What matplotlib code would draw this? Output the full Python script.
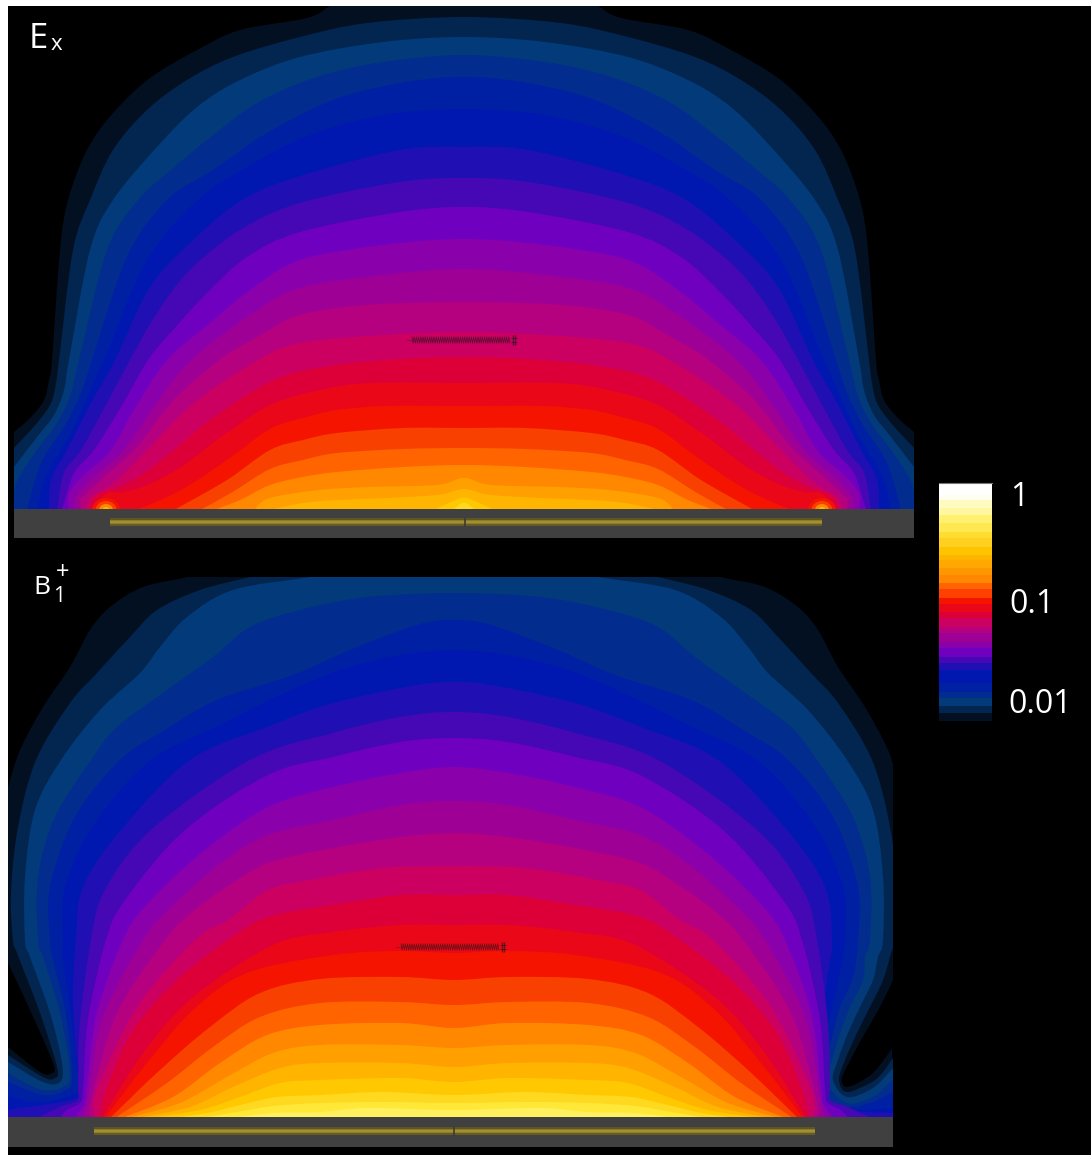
import numpy as np
import matplotlib
matplotlib.use('Agg')
import matplotlib.pyplot as plt
from matplotlib.path import Path
from matplotlib.patches import PathPatch, Rectangle
from matplotlib.transforms import Affine2D

# 颜色带，从外（弱场）到内（强场）
band_colors = ['#021022', '#02264f', '#023a7a', '#022c8e', '#0020a4', '#0018b0', '#2010b4',
               '#4608b4', '#7000c0', '#8a00aa', '#9e0096', '#b50080', '#cc0060', '#dd0038',
               '#ea0818', '#f51400', '#f84000', '#ff6400', '#ff8800', '#ffa000', '#ffb400',
               '#ffc800', '#ffd820', '#ffe838', '#fff060']

# Ex: 左半边等值线，从中线往外读的像素点（右半边镜像）
ex_c00 = [(464, -6), (400, -4), (345, 0), (330, 6), (307, 18), (240, 30), (197, 50), (150, 78), (113, 113), (87, 150), (68, 200), (60, 250), (52, 360), (49, 380), (44, 400), (31, 417), (14, 432)]
ex_c01 = [(464, 17), (367, 23), (300, 37), (233, 57), (187, 80), (147, 110), (113, 150), (90, 200), (73, 250), (59, 360), (56, 383), (51, 403), (37, 423), (14, 448)]
ex_c02 = [(464, 37), (383, 42), (300, 57), (240, 80), (197, 107), (157, 147), (113, 200), (90, 250), (69, 360), (64, 390), (54, 415), (37, 437), (14, 467)]
ex_c03 = [(464, 55), (383, 62), (317, 77), (257, 103), (207, 140), (165, 175), (138, 200), (107, 250), (79, 360), (71, 393), (57, 423), (37, 450), (19, 477), (14, 493)]
ex_c04 = [(464, 77), (400, 83), (333, 100), (267, 133), (213, 170), (167, 200), (127, 257), (92, 360), (81, 393), (64, 427), (41, 463), (27, 510)]
ex_c05 = [(464, 109), (383, 115), (310, 135), (250, 165), (198, 200), (147, 260), (104, 360), (87, 397), (71, 433), (47, 473), (37, 510)]
ex_c06 = [(464, 147), (400, 150), (300, 176), (242, 200), (190, 243), (150, 287), (115, 360), (91, 403), (67, 450), (51, 480), (49, 510)]
ex_c07 = [(464, 178), (400, 182), (300, 203), (240, 230), (190, 270), (157, 313), (130, 360), (107, 403), (81, 450), (64, 473), (57, 510)]
ex_c08 = [(464, 207), (400, 212), (300, 232), (247, 257), (207, 293), (173, 330), (148, 360), (121, 407), (94, 450), (74, 473), (62, 510)]
ex_c09 = [(464, 239), (383, 245), (300, 260), (250, 290), (210, 323), (167, 360), (134, 410), (111, 450), (84, 475), (69, 493), (69, 510)]
ex_c10 = [(464, 269), (383, 275), (300, 288), (253, 313), (191, 360), (154, 407), (124, 450), (94, 477), (76, 497), (76, 510)]
ex_c11 = [(464, 302), (367, 305), (300, 315), (257, 337), (219, 360), (171, 403), (137, 447), (104, 477), (82, 498), (81, 510)]
ex_c12 = [(464, 332), (383, 335), (300, 343), (258, 360), (194, 403), (147, 450), (117, 480), (91, 497), (86, 510)]
ex_c13 = [(464, 357), (400, 359), (330, 366), (274, 380), (214, 417), (174, 450), (144, 473), (117, 488), (97, 495), (89, 510)]
ex_c14 = [(464, 383), (370, 383), (320, 390), (270, 405), (221, 437), (181, 467), (147, 485), (124, 492), (107, 493), (91, 510)]
ex_c15 = [(464, 406), (387, 406), (337, 410), (303, 418), (270, 429), (227, 460), (181, 490), (137, 510)]
ex_c16 = [(464, 428), (403, 428), (337, 433), (303, 440), (270, 450), (227, 480), (174, 510)]
ex_c17 = [(464, 448), (403, 449), (337, 453), (303, 460), (270, 469), (231, 493), (200, 510)]
ex_c18 = [(464, 465), (403, 467), (337, 472), (303, 477), (270, 485), (240, 500), (214, 510)]
ex_c19 = [(464, 478), (437, 485), (370, 487), (320, 490), (270, 498), (254, 510)]
ex_c20 = [(464, 489), (457, 490), (437, 495), (387, 498), (337, 500), (303, 503), (270, 510)]
ex_c21 = [(464, 498), (460, 498), (440, 507), (433, 510)]
ex_c22 = [(464, 503), (460, 504), (453, 510)]
ex_contours = [ex_c00, ex_c01, ex_c02, ex_c03, ex_c04, ex_c05, ex_c06, ex_c07, ex_c08, ex_c09, ex_c10, ex_c11,
               ex_c12, ex_c13, ex_c14, ex_c15, ex_c16, ex_c17, ex_c18, ex_c19, ex_c20, ex_c21, ex_c22]
ex_bands = list(range(23))
ex_blob_radius = [12, 9, 6, 3]
ex_blob_bands = [15, 16, 18, 20]

# B1+
b1_c00 = [(454, 560), (250, 560), (187, 577), (143, 587), (110, 607), (90, 630), (70, 667), (43, 707), (20, 750), (8, 787)]
b1_c00_hole = [(8, 963), (30, 1010), (53, 1063), (52, 1073), (40, 1072), (8, 1047)]
b1_c00_hole_r = [(893, 980), (880, 1007), (865, 1033), (852, 1057), (842, 1078), (847, 1087), (868, 1077), (880, 1065), (892, 1048)]
b1_c01 = [(454, 560), (300, 565), (250, 577), (200, 590), (157, 610), (130, 637), (97, 673), (70, 703), (36, 760), (18, 827), (11, 893), (13, 940), (17, 953), (40, 1013), (57, 1067), (55, 1078), (43, 1077), (8, 1055)]
b1_c02 = [(454, 565), (360, 568), (310, 577), (233, 590), (187, 617), (160, 647), (140, 673), (100, 710), (61, 760), (35, 810), (25, 877), (25, 940), (30, 957), (50, 1013), (62, 1063), (60, 1082), (43, 1082), (8, 1062)]
b1_c03 = [(454, 593), (367, 597), (300, 610), (250, 627), (213, 657), (167, 690), (117, 727), (91, 760), (55, 817), (38, 877), (38, 940), (43, 957), (60, 1013), (70, 1073), (63, 1087), (43, 1090), (20, 1080), (8, 1073)]
b1_c04 = [(454, 620), (417, 625), (350, 650), (293, 675), (217, 700), (165, 730), (120, 760), (75, 817), (50, 887), (50, 940), (53, 960), (65, 1010), (72, 1075), (66, 1090), (43, 1095), (8, 1082)]
b1_c05 = [(454, 650), (400, 655), (340, 670), (280, 695), (220, 725), (151, 760), (95, 823), (65, 887), (63, 940), (63, 960), (70, 1010), (78, 1080), (72, 1095), (37, 1102), (8, 1096)]
b1_c06 = [(454, 682), (417, 685), (333, 703), (267, 727), (190, 760), (121, 830), (83, 887), (76, 940), (73, 990), (75, 1040), (80, 1085), (76, 1098), (50, 1104), (20, 1108), (8, 1110)]
b1_c07 = [(454, 712), (400, 717), (333, 733), (250, 760), (151, 830), (105, 890), (91, 940), (80, 1023), (78, 1087), (78, 1100), (60, 1107), (37, 1118)]
b1_c08 = [(454, 738), (400, 742), (333, 757), (268, 775), (185, 830), (125, 900), (106, 940), (88, 1020), (83, 1090), (80, 1103), (67, 1110), (60, 1118)]
b1_c09 = [(454, 767), (400, 773), (333, 787), (268, 807), (205, 850), (148, 903), (123, 940), (97, 1013), (87, 1087), (85, 1103), (75, 1118)]
b1_c10 = [(454, 801), (400, 805), (333, 820), (268, 835), (221, 863), (171, 907), (143, 940), (103, 1017), (88, 1097), (83, 1118)]
b1_c11 = [(454, 833), (400, 837), (333, 848), (268, 863), (225, 888), (191, 913), (165, 940), (117, 1013), (92, 1097), (90, 1118)]
b1_c12 = [(454, 866), (383, 868), (310, 880), (268, 890), (228, 920), (195, 940), (137, 1007), (97, 1090), (95, 1118)]
b1_c13 = [(454, 895), (400, 895), (333, 905), (268, 917), (228, 940), (177, 980), (133, 1030), (107, 1087), (99, 1118)]
b1_c14 = [(454, 925), (400, 925), (333, 932), (273, 945), (193, 997), (143, 1053), (102, 1118)]
b1_c15 = [(454, 953), (400, 951), (333, 955), (247, 973), (193, 1010), (147, 1063), (105, 1118)]
b1_c16 = [(454, 980), (400, 977), (320, 979), (260, 993), (210, 1027), (160, 1070), (110, 1118)]
b1_c17 = [(454, 1005), (400, 1002), (320, 1003), (260, 1017), (213, 1047), (167, 1083), (115, 1118)]
b1_c18 = [(454, 1028), (400, 1023), (320, 1025), (267, 1035), (220, 1063), (173, 1097), (122, 1118)]
b1_c19 = [(454, 1048), (400, 1045), (320, 1045), (273, 1053), (227, 1077), (180, 1103), (128, 1118)]
b1_c20 = [(454, 1067), (400, 1063), (320, 1063), (280, 1068), (233, 1087), (190, 1107), (137, 1118)]
b1_c21 = [(454, 1082), (400, 1078), (320, 1080), (280, 1083), (240, 1097), (200, 1110), (148, 1118)]
b1_c22 = [(454, 1095), (383, 1092), (320, 1095), (277, 1097), (240, 1105), (207, 1113), (170, 1118)]
b1_c23 = [(454, 1103), (383, 1102), (320, 1103), (273, 1106), (237, 1112), (200, 1118)]
b1_c24 = [(454, 1110), (367, 1108), (320, 1112), (273, 1113), (233, 1118)]
b1_contours = [b1_c00, b1_c01, b1_c02, b1_c03, b1_c04, b1_c05, b1_c06, b1_c07, b1_c08, b1_c09, b1_c10, b1_c11, b1_c12,
               b1_c13, b1_c14, b1_c15, b1_c16, b1_c17, b1_c18, b1_c19, b1_c20, b1_c21, b1_c22, b1_c23, b1_c24]
b1_bands = list(range(25))

# B1+ 右下角不对称，这几条 y>960 以后单独读
b1_r01 = [(883, 980), (870, 1007), (857, 1033), (845, 1060), (839, 1080), (847, 1092), (872, 1082), (883, 1072), (893, 1058)]
b1_r02 = [(873, 980), (860, 1007), (848, 1033), (838, 1060), (833, 1080), (847, 1097), (873, 1088), (893, 1068)]
b1_r03 = [(863, 980), (850, 1007), (840, 1033), (832, 1060), (827, 1083), (847, 1103), (873, 1097), (893, 1080)]
b1_r04 = [(853, 977), (840, 1007), (832, 1037), (825, 1063), (823, 1090), (840, 1107), (870, 1103), (893, 1092)]
b1_r05 = [(840, 973), (832, 1007), (825, 1037), (820, 1067), (822, 1100), (837, 1110), (893, 1108)]
b1_r06 = [(828, 973), (823, 1010), (818, 1047), (818, 1093), (823, 1108), (847, 1111), (893, 1113)]
b1_right_tails = {1: b1_r01, 2: b1_r02, 3: b1_r03, 4: b1_r04, 5: b1_r05, 6: b1_r06}

# 色标
cbar_edges = [483, 495, 500, 508, 515, 523, 532, 538, 547, 555, 560, 568, 575, 583, 589, 598, 604, 612, 618, 627, 633, 642, 648, 657, 663, 670, 683, 692, 698, 706, 713, 721]
cbar_colors = ['#ffffff', '#fffef0', '#fffbc0', '#fff8a0', '#fff070', '#ffe850', '#ffdc30', '#ffd020', '#ffc400',
               '#ffb400', '#ffa800', '#ff9800', '#ff8800', '#ff6400', '#ff4000', '#f51400', '#ea0818', '#dd0038',
               '#cc0060', '#b50080', '#9e0096', '#8a00aa', '#7000c0', '#4608b4', '#2010b4', '#0018b0', '#0020a4',
               '#022c8e', '#023a7a', '#02264f', '#021022']
cbar_labels = ['1', '0.1', '0.01']


def smooth_curve(pts):
    # Catmull-Rom 转贝塞尔，只是把读到的点连顺
    n = len(pts)
    verts, codes = [], []
    for i in range(n - 1):
        p0 = pts[max(i - 1, 0)]
        p1 = pts[i]
        p2 = pts[i + 1]
        p3 = pts[min(i + 2, n - 1)]
        verts += [p1 + (p2 - p0) / 6, p2 - (p3 - p1) / 6, p2]
        codes += [Path.CURVE4] * 3
    return verts, codes


def draw_level(ax, contour, center, base, color, clip, hole=None, hole_r=None, tail=None):
    left = np.array(contour, dtype=float)
    mirror = lambda a: np.column_stack([2 * center - a[:, 0], a[:, 1]])
    right = mirror(left)
    if tail is not None:
        # 右边 y>=960 以下换成单独读的尾巴
        right = np.vstack([right[right[:, 1] < 960], np.array(tail, dtype=float)])
    full = np.vstack([left[::-1], right[1:]])
    sections = []
    if hole is not None:
        sections.append(np.array(hole, dtype=float)[::-1])
    sections.append(full)
    if hole_r is not None:
        sections.append(np.array(hole_r, dtype=float))

    start = sections[0][0]
    verts = [(start[0], base)]
    codes = [Path.MOVETO]
    for s in sections:
        verts.append(tuple(s[0]))
        codes.append(Path.LINETO)
        v, c = smooth_curve(s)
        verts += v
        codes += c
    end = sections[-1][-1]
    verts += [(end[0], base), (start[0], base)]
    codes += [Path.LINETO, Path.CLOSEPOLY]
    patch = PathPatch(Path(verts, codes), facecolor=color, edgecolor='none', lw=0)
    ax.add_patch(patch)
    patch.set_clip_path(clip)


def draw_panel(ax, contours, bands, center, x0, x1, top, base, hole=None, hole_r=None, tails=None):
    clip = Rectangle((x0, top), x1 - x0, base - top, transform=ax.transData)
    for i, (c, b) in enumerate(zip(contours, bands)):
        tail = tails.get(i) if tails else None
        draw_level(ax, c, center, base, band_colors[b], clip,
                   hole if i == 0 else None, hole_r if i == 0 else None, tail)
    return clip


def draw_plate(ax, x0, x1, top, bottom, coil_x0, coil_x1, coil_top, coil_bottom, split):
    ax.add_patch(Rectangle((x0, top), x1 - x0, bottom - top, facecolor='#404040', edgecolor='none'))
    shades = ['#5f5522', '#8a7a2c', '#a09030', '#8f7f2c', '#665b24']
    h = (coil_bottom - coil_top) / len(shades)
    for i, s in enumerate(shades):
        ax.add_patch(Rectangle((coil_x0, coil_top + i * h), coil_x1 - coil_x0, h, facecolor=s, edgecolor='none'))
    ax.plot([split, split], [coil_top, coil_bottom], color='#3a3a3a', lw=1.2)


def draw_coil(ax, x0, x1, y):
    ax.plot([x0, x0 + 5], [y, y], color='#222222', lw=0.5, alpha=0.5)
    xs = np.arange(x0 + 5, x1 - 6, 1.1)
    ys = np.where(np.arange(len(xs)) % 2 == 0, y - 3.2, y + 3.2)
    ax.plot(xs, ys, color='#151515', lw=0.55, alpha=0.6)
    ax.vlines([x1 - 4, x1 - 2], y - 5, y + 5, color='#1a1a1a', lw=1.0, alpha=0.6)
    ax.hlines([y - 2, y + 2], x1 - 6, x1, color='#1a1a1a', lw=0.7, alpha=0.6)


plt.rcParams['font.family'] = ['Open Sans', 'DejaVu Sans']
fig = plt.figure(figsize=(10.91, 11.55), dpi=100, facecolor='white')
ax = fig.add_axes([0, 0, 1, 1])
ax.set_xlim(0, 1091)
ax.set_ylim(1155, 0)
ax.axis('off')
ax.add_patch(Rectangle((8, 6), 1083, 1149, facecolor='black', edgecolor='none'))

clip_ex = draw_panel(ax, ex_contours, ex_bands, 464, 14, 914, 6, 510)
for cx in (106, 822):
    for r, b in zip(ex_blob_radius, ex_blob_bands):
        blob = PathPatch(Path.wedge(180, 360), facecolor=band_colors[b], edgecolor='none')
        blob.set_transform(Affine2D().scale(r * 1.15, r).translate(cx, 510) + ax.transData)
        ax.add_patch(blob)
        blob.set_clip_path(clip_ex)
draw_plate(ax, 14, 914, 509, 538, 110, 822, 518, 526, 465)

draw_panel(ax, b1_contours, b1_bands, 454, 8, 893, 577, 1118,
           hole=b1_c00_hole, hole_r=b1_c00_hole_r, tails=b1_right_tails)
draw_plate(ax, 8, 893, 1117, 1147, 94, 815, 1127, 1135, 454)

draw_coil(ax, 407, 517, 340)
draw_coil(ax, 396, 506, 947)

for i, col in enumerate(cbar_colors):
    ax.bar(965.5, cbar_edges[i + 1] - cbar_edges[i], width=53, bottom=cbar_edges[i], color=col, linewidth=0)
ax.plot([939, 992], [483, 483], color='#777777', lw=0.8)

ax.text(1010, 506, cbar_labels[0], color='white', fontsize=23, va='baseline', ha='left')
ax.text(1009, 613, cbar_labels[1], color='white', fontsize=23, va='baseline', ha='left')
ax.text(1008, 713, cbar_labels[2], color='white', fontsize=23, va='baseline', ha='left')

ax.text(29, 48, 'E', color='white', fontsize=25, va='baseline', ha='left')
ax.text(51, 50, 'x', color='white', fontsize=16, va='baseline', ha='left')
ax.text(33, 594, 'B', color='white', fontsize=19, va='baseline', ha='left')
ax.text(53, 602, '1', color='white', fontsize=15, va='baseline', ha='left')
ax.text(56, 579, '+', color='white', fontsize=17, va='baseline', ha='left')

fig.savefig('out.png', dpi=100, facecolor='white')
